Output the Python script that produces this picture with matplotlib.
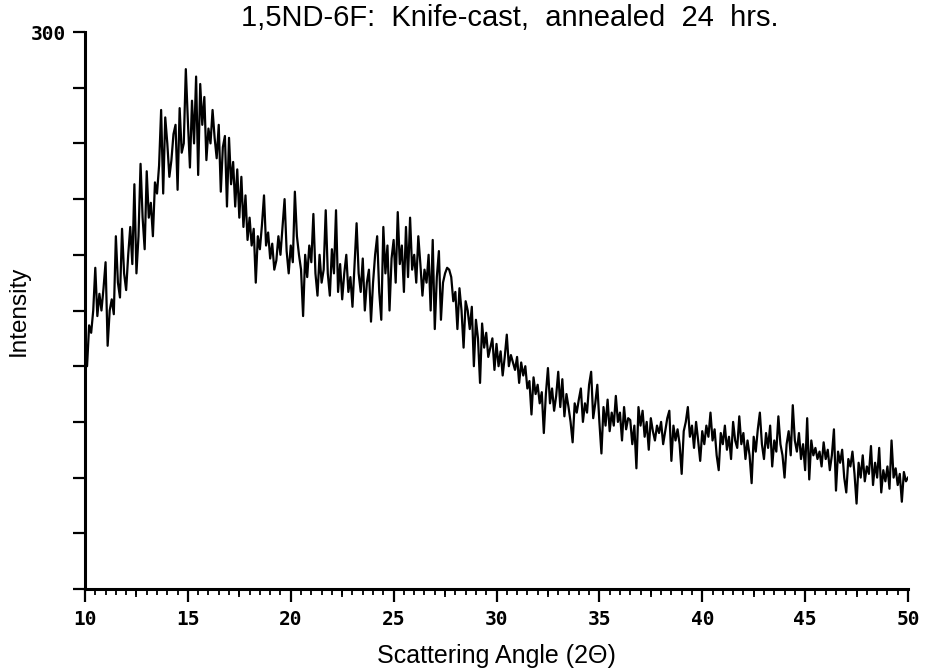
import numpy as np
import matplotlib
matplotlib.use("Agg")
import matplotlib.pyplot as plt
from matplotlib.ticker import MultipleLocator

title = "1,5ND-6F:  Knife-cast,  annealed  24  hrs."
xlabel = "Scattering Angle (2\u0398)"
ylabel = "Intensity"

angle_start = 10.0
angle_step = 0.1

intensity = [
    128, 120, 142, 138, 150, 173, 147, 159, 150, 162,
    176, 131, 150, 156, 148, 190, 165, 157, 194, 170,
    161, 180, 195, 175, 218, 170, 190, 229, 200, 183,
    225, 200, 208, 190, 219, 213, 228, 258, 213, 254,
    240, 222, 231, 245, 250, 215, 259, 235, 240, 280,
    252, 227, 263, 240, 276, 223, 272, 250, 265, 231,
    248, 240, 258, 243, 232, 250, 214, 238, 244, 206,
    243, 218, 230, 206, 226, 200, 222, 195, 212, 188,
    200, 185, 194, 165, 190, 183, 196, 212, 185, 192,
    178, 186, 172, 177, 190, 180, 195, 210, 182, 170,
    185, 176, 214, 190, 180, 172, 147, 180, 168, 185,
    176, 202, 170, 158, 180, 165, 172, 204, 170, 158,
    183, 170, 204, 160, 175, 156, 170, 180, 160, 168,
    152, 175, 197, 170, 160, 178, 150, 165, 172, 144,
    165, 180, 190, 160, 145, 195, 170, 185, 150, 178,
    188, 165, 203, 175, 185, 160, 195, 168, 200, 172,
    180, 165, 190, 175, 158, 172, 165, 180, 150, 188,
    140, 168, 182, 145, 165, 170, 173, 172, 168, 155,
    160, 140, 162, 150, 130, 155, 150, 140, 152, 120,
    145, 135, 111, 143, 130, 138, 125, 130, 135, 118,
    132, 120, 128, 115, 125, 137, 120, 126, 122, 118,
    125, 111, 122, 115, 120, 108, 112, 94, 114, 105,
    110, 100, 106, 84, 105, 119, 100, 108, 96, 104,
    117, 98, 113, 93, 105, 98, 90, 79, 100, 95,
    102, 108, 90, 100, 95, 110, 117, 92, 100, 110,
    90, 73, 98, 88, 102, 85, 95, 88, 104, 90,
    95, 80, 98, 86, 92, 91, 78, 88, 65, 98,
    88, 96, 82, 90, 75, 92, 85, 80, 88, 84,
    90, 78, 85, 92, 96, 69, 88, 80, 86, 78,
    62, 85, 90, 98, 82, 88, 76, 90, 80, 69,
    85, 78, 88, 82, 95, 80, 86, 72, 64, 84,
    78, 88, 75, 82, 70, 90, 80, 76, 93, 78,
    84, 70, 80, 72, 57, 82, 74, 86, 95, 78,
    70, 84, 76, 88, 66, 80, 74, 93, 78, 72,
    60, 78, 85, 72, 99, 80, 74, 84, 70, 78,
    64, 92, 59, 80, 72, 76, 70, 74, 66, 79,
    70, 75, 64, 72, 86, 53, 74, 68, 75, 60,
    52, 70, 66, 74, 62, 46, 68, 60, 72, 58,
    66, 62, 77, 56, 68, 60, 76, 52, 64, 58,
    66, 54, 80, 60, 65, 56, 62, 47, 63, 58,
    60,
]
angle = angle_start + angle_step * np.arange(len(intensity))

x_ticks = [10, 15, 20, 25, 30, 35, 40, 45, 50]
x_tick_labels = ["10", "15", "20", "25", "30", "35", "40", "45", "50"]
x_mid_ticks = [12.5, 17.5, 22.5, 27.5, 32.5, 37.5, 42.5, 47.5]
y_ticks = [0, 30, 60, 90, 120, 150, 180, 210, 240, 270, 300]
y_tick_labels = ["", "", "", "", "", "", "", "", "", "", "300"]

fig = plt.figure(figsize=(9.27, 6.70), dpi=100)
ax = fig.add_axes([85 / 927, 1 - 589 / 670, (908 - 85) / 927, (589 - 32) / 670])

ax.plot(angle, intensity, color="black", linewidth=1.6)

ax.set_xlim(10, 50)
ax.set_ylim(0, 300)

for s in ["top", "right"]:
    ax.spines[s].set_visible(False)
for s in ["left", "bottom"]:
    ax.spines[s].set_linewidth(2.2)

tick_font = dict(family="DejaVu Sans Mono", weight="bold", size=14)
ax.set_xticks(x_ticks)
ax.set_xticklabels(x_tick_labels, fontdict=tick_font)
ax.xaxis.set_minor_locator(MultipleLocator(0.5))
ax.tick_params(axis="x", which="major", direction="out", length=9, width=1.6, pad=6)
ax.tick_params(axis="x", which="minor", direction="out", length=4, width=1.3)

ax.set_yticks(y_ticks)
ax.set_yticklabels(y_tick_labels, fontdict=tick_font)
ax.tick_params(axis="y", which="major", direction="out", length=9, width=1.6, pad=5)

sec = ax.secondary_xaxis("bottom")
sec.set_xticks(x_mid_ticks)
sec.set_xticklabels([])
sec.tick_params(axis="x", direction="out", length=6, width=1.3)
sec.spines["bottom"].set_visible(False)

ax.set_xlabel(xlabel, family="Liberation Sans", fontsize=18, labelpad=11)
ax.set_ylabel(ylabel, family="Liberation Sans", fontsize=17.5)
ax.yaxis.set_label_coords(-55 / 823, 0.5)

fig.text(510 / 927, 1 - 18 / 670, title, ha="center", va="center",
         family="Liberation Sans", fontsize=21)

fig.savefig("out.png", dpi=100)
